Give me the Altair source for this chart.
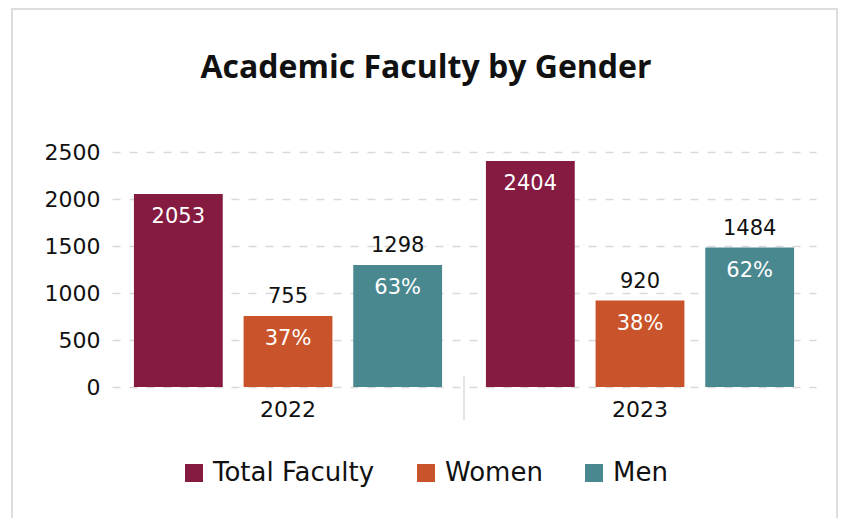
import altair as alt
import pandas as pd

years = ["2022", "2023"]
series = ["Total Faculty", "Women", "Men"]
total_values = [2053, 2404]
women_values = [755, 920]
men_values = [1298, 1484]
women_pct = ["37%", "38%"]
men_pct = ["63%", "62%"]
colors = ["#861B42", "#C9532A", "#4A8890"]
y_ticks = [0, 500, 1000, 1500, 2000, 2500]

FONT = "DejaVu Sans"
TITLE_FONT = "Open Sans"

rows = []
for i, yr in enumerate(years):
    rows.append({"year": yr, "series": "Total Faculty", "value": total_values[i],
                 "inside": str(total_values[i]), "top": ""})
    rows.append({"year": yr, "series": "Women", "value": women_values[i],
                 "inside": women_pct[i], "top": str(women_values[i])})
    rows.append({"year": yr, "series": "Men", "value": men_values[i],
                 "inside": men_pct[i], "top": str(men_values[i])})
df = pd.DataFrame(rows)

x_enc = alt.X("year:N", sort=years, title=None,
              scale=alt.Scale(paddingInner=0, paddingOuter=0),
              axis=alt.Axis(labelAngle=0, ticks=False, domain=False,
                            labelFontSize=22, labelColor="#111111",
                            labelFont=FONT, labelPadding=12))
xoff_enc = alt.XOffset("series:N", sort=series,
                       scale=alt.Scale(paddingInner=0.19, paddingOuter=0.2))
y_enc = alt.Y("value:Q", title=None,
              scale=alt.Scale(domain=[0, 2500], nice=False),
              axis=alt.Axis(values=y_ticks, format="d", ticks=False, domain=False,
                            labelFontSize=22, labelColor="#111111", labelFont=FONT,
                            labelPadding=12, gridColor="#d9d9d9", gridWidth=1.5,
                            gridDash=[8, 9]))

base = alt.Chart(df)

bars = base.mark_bar().encode(
    x=x_enc, xOffset=xoff_enc, y=y_enc,
    color=alt.Color("series:N", sort=series, title=None,
                    scale=alt.Scale(domain=series, range=colors),
                    legend=alt.Legend(orient="none", direction="horizontal",
                                      legendX=69, legendY=308,
                                      symbolType="square", symbolSize=324,
                                      symbolStrokeWidth=0, labelFontSize=26,
                                      labelFont=FONT, labelColor="#111111",
                                      labelLimit=400,
                                      columnPadding=38, labelOffset=6))
)

inside = base.mark_text(baseline="alphabetic", dy=29, color="white",
                        fontSize=21, font=FONT).encode(
    x=alt.X("year:N", sort=years), xOffset=alt.XOffset("series:N", sort=series),
    y="value:Q", text="inside:N")

top = base.transform_filter(alt.datum.top != "").mark_text(
    baseline="alphabetic", dy=-13, color="#111111", fontSize=21, font=FONT).encode(
    x=alt.X("year:N", sort=years), xOffset=alt.XOffset("series:N", sort=series),
    y="value:Q", text="top:N")

sep = alt.Chart(pd.DataFrame({"year": [years[1]]})).mark_rule(
    color="#dddddd", strokeWidth=1.5).encode(
    x=alt.X("year:N", sort=years, bandPosition=0),
    y=alt.value(224), y2=alt.value(268))

border = alt.Chart(pd.DataFrame({"k": [0]})).mark_rect(
    fillOpacity=0, stroke="#dddddd", strokeWidth=2).encode(
    x=alt.value(-100), x2=alt.value(725), y=alt.value(-143), y2=alt.value(420))

chart = alt.layer(border, bars, inside, top, sep).properties(
    width=704, height=235,
    autosize=alt.AutoSizeParams(type="none"),
    padding={"left": 104, "top": 144, "right": 22, "bottom": 131},
    title=alt.TitleParams("Academic Faculty by Gender", fontSize=32, fontWeight="bold",
                          font=TITLE_FONT, color="#111111", anchor="middle", frame="group",
                          baseline="alphabetic", dx=-38, offset=-102),
).configure_view(stroke=None)

chart.save("out.html", embed_options={"renderer": "svg", "actions": False})
